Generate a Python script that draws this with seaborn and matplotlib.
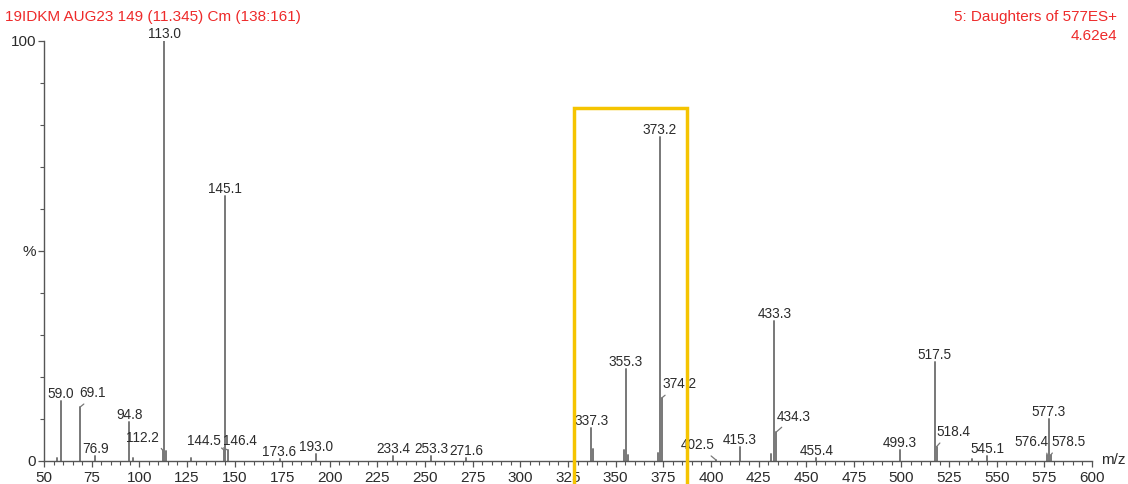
import matplotlib
matplotlib.use("Agg")
import matplotlib.pyplot as plt
from matplotlib.patches import Rectangle
from matplotlib.ticker import MultipleLocator, FixedLocator, FixedFormatter
import numpy as np
import pandas as pd
import seaborn as sns

# ---- spectrum data: m/z and relative intensity (% of base peak) ----
peak_mz = [57.0, 59.0, 69.1, 76.9, 94.8, 96.8, 112.2, 113.0, 114.2, 127.2,
           144.5, 145.1, 146.4, 173.6, 193.0, 233.4, 253.3, 271.6,
           337.3, 338.2, 354.3, 355.3, 356.4, 372.2, 373.2, 374.2,
           402.5, 415.3, 431.6, 433.3, 434.3, 455.4, 499.3,
           517.5, 518.4, 537.0, 545.1, 576.4, 577.3, 578.5]
peak_int = [0.7, 14.3, 12.9, 1.2, 9.3, 0.6, 2.6, 100.0, 2.5, 0.8,
            2.6, 63.1, 2.6, 0.5, 1.7, 1.2, 1.2, 0.7,
            7.9, 2.8, 2.6, 21.9, 1.5, 1.9, 77.1, 15.0,
            0.3, 3.4, 1.6, 33.3, 6.9, 0.7, 2.6,
            23.6, 3.4, 0.4, 1.2, 1.5, 10.0, 1.5]

# peaks that carry an m/z label
labelled_mz = [59.0, 69.1, 76.9, 94.8, 112.2, 113.0, 144.5, 145.1, 146.4,
               173.6, 193.0, 233.4, 253.3, 271.6, 337.3, 355.3, 373.2, 374.2,
               402.5, 415.3, 433.3, 434.3, 455.4, 499.3, 517.5, 518.4,
               545.1, 576.4, 577.3, 578.5]

x_ticks = list(range(50, 601, 25))
y_ticks = [0, 50, 100]
y_tick_labels = ["0", "%", "100"]

title_left = "19IDKM AUG23 149 (11.345) Cm (138:161)"
title_right = "5: Daughters of 577ES+"
scale_text = "4.62e4"

# labels pushed aside with a leader line: (dx px, dy px, attach point on text)
leader_offsets = {
    69.1: (12, 9.5, 0.35), 112.2: (-20.5, 8.5, 1.0), 144.5: (-20, 5.5, 1.0),
    146.4: (12, 5.5, 0.0), 374.2: (18, 9.5, 0.2), 402.5: (-17.5, 10.5, 0.75),
    434.3: (17.5, 11.5, 0.27), 518.4: (17, 10.5, 0.2), 576.4: (-16, 8.5, 0.95),
    578.5: (18, 8.5, 0.1),
}

sns.set_theme(style="ticks")
plt.rcParams["font.family"] = ["Liberation Sans", "DejaVu Sans"]

STICK = "#787878"
AXIS = "#555555"
TEXT = "#2b2b2b"
RED = "#ee2a2a"
GOLD = "#f5c400"

fig = plt.figure(figsize=(11.28, 4.84), dpi=100)
ax = fig.add_axes([44 / 1128, 23 / 484, 1048 / 1128, 420 / 484])

# one vertical stick per peak, drawn as separate units
spec = pd.DataFrame({"mz": peak_mz, "intensity": peak_int})
spec["peak"] = np.arange(len(spec))
sticks = pd.concat([spec.assign(intensity=0.0), spec]).sort_values(["peak", "intensity"])
sns.lineplot(data=sticks, x="mz", y="intensity", units="peak", estimator=None,
             sort=False, color=STICK, lw=1.4, ax=ax, legend=False)

ax.set_xlim(50, 600)
ax.set_ylim(0, 100)
ax.set_xlabel("")
ax.set_ylabel("")
sns.despine(ax=ax)
for side in ("left", "bottom"):
    ax.spines[side].set_color(AXIS)
    ax.spines[side].set_linewidth(1.0)

ax.xaxis.set_major_locator(FixedLocator(x_ticks))
ax.xaxis.set_minor_locator(MultipleLocator(5))
ax.yaxis.set_major_locator(FixedLocator(y_ticks))
ax.yaxis.set_major_formatter(FixedFormatter(y_tick_labels))
ax.yaxis.set_minor_locator(MultipleLocator(10))
ax.tick_params(axis="both", which="major", direction="out", length=4.5, width=0.9,
               color=AXIS, labelsize=11, labelcolor=TEXT)
ax.tick_params(axis="x", which="major", pad=2.5)
ax.tick_params(axis="y", which="major", pad=1)
ax.tick_params(axis="both", which="minor", direction="out", length=2.8, width=0.8,
               color=AXIS)

# peak labels
lookup = dict(zip(peak_mz, peak_int))
for mz in labelled_mz:
    h = lookup[mz]
    if mz in leader_offsets:
        dx, dy, rx = leader_offsets[mz]
        ax.annotate(f"{mz:.1f}", xy=(mz, h), xytext=(dx, dy), textcoords="offset pixels",
                    ha="center", va="baseline", fontsize=9.8, color=TEXT,
                    arrowprops=dict(arrowstyle="-", color=STICK, lw=0.9,
                                    shrinkA=0.5, shrinkB=0, relpos=(rx, 0.0)),
                    annotation_clip=False)
    else:
        ax.annotate(f"{mz:.1f}", xy=(mz, h), xytext=(0, 3), textcoords="offset pixels",
                    ha="center", va="baseline", fontsize=9.8, color=TEXT,
                    annotation_clip=False)

# axis unit
ax.annotate("m/z", xy=(1, 0), xycoords="axes fraction", xytext=(9, 1),
            textcoords="offset pixels", ha="left", va="center", fontsize=11,
            color=TEXT, annotation_clip=False)

# highlighted m/z window
box = Rectangle((327.9, -12), 387.5 - 327.9, 84.0 + 12, fill=False,
                edgecolor=GOLD, lw=2.5, clip_on=False, zorder=10)
ax.add_patch(box)

fig.text(5 / 1128, 1 - 17 / 484, title_left, ha="left", va="center",
         fontsize=11, color=RED)
fig.text(1117 / 1128, 1 - 17 / 484, title_right, ha="right", va="center",
         fontsize=11, color=RED)
fig.text(1117 / 1128, 1 - 36 / 484, scale_text, ha="right", va="center",
         fontsize=11, color=RED)

fig.savefig("out.png", dpi=100, facecolor="white")
